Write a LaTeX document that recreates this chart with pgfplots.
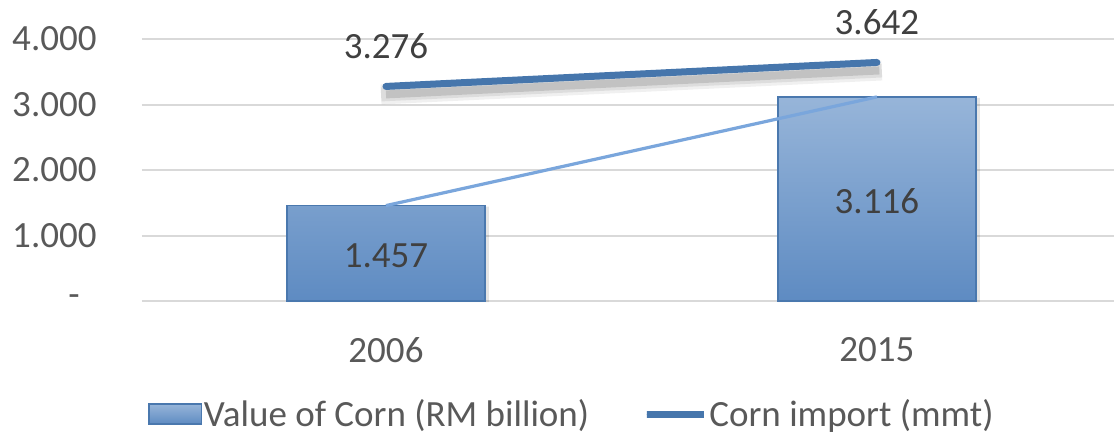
\documentclass[border=0pt]{standalone}
\usepackage{fontspec}
\setmainfont{Carlito}
\usepackage{pgfplots}
\pgfplotsset{compat=1.18}
\definecolor{barTop}{HTML}{97B5D9}
\definecolor{barBot}{HTML}{5E8BC2}
\definecolor{barEdge}{HTML}{4A78AE}
\definecolor{lineDark}{HTML}{4676AC}
\definecolor{lineLight}{HTML}{7AA6DC}
\definecolor{gridc}{HTML}{D9D9D9}
\definecolor{tickc}{HTML}{595959}
\definecolor{labc}{HTML}{404040}
\newcommand\fs{\fontsize{18.5pt}{22pt}\selectfont}
\begin{document}
\begin{tikzpicture}
\useasboundingbox (-71pt,-67pt) rectangle (486pt,150.5pt);
\clip (-71pt,-67pt) rectangle (486pt,150.5pt);
\begin{axis}[
  at={(0,0)}, anchor=south west,
  scale only axis, width=486pt, height=131pt,
  xmin=-0.497, xmax=1.483, ymin=0, ymax=4,
  clip=false,
  axis line style={draw=none},
  major tick length=0pt,
  ymajorgrids, grid style={gridc, line width=1pt},
  ytick={0,1,2,3,4}, yticklabels={-\hspace*{8.5pt},1.000,2.000,3.000,4.000},
  xtick={0,1}, xticklabels={2006,2015},
  yticklabel style={anchor=east, inner sep=0pt, xshift=-22.5pt, font=\fs, text=tickc},
  xticklabel style={anchor=north, inner sep=0pt, yshift=-18pt, font=\fs, text=tickc},
  legend columns=2,
  legend cell align=left,
  legend style={at={(0,0)}, anchor=west, xshift=3pt, yshift=-56.5pt,
    draw=none, fill=none, inner sep=0pt, column sep=0pt, row sep=0pt,
    nodes={inner xsep=1pt, inner ysep=0pt, font=\fs, text=tickc}},
]
% bar shadow
\addplot[ybar, bar width=101pt, fill=black, opacity=0.10, draw=none, forget plot, xshift=1pt, yshift=-0.5pt]
  coordinates {(0,1.457) (1,3.116)};
% bars
\addplot[ybar, bar width=99pt, top color=barTop, bottom color=barBot, draw=barEdge, line width=0.8pt,
  point meta=explicit symbolic,
  visualization depends on=rawy \as \rawy,
  nodes near coords,
  every node near coord/.append style={anchor=center, inner sep=0pt, font=\fs, text=labc,
     shift={(axis direction cs:0,-\rawy/2)}, yshift=-1pt},
  legend image code/.code={
    \fill[top color=barTop, bottom color=barBot] (0pt,-5pt) rectangle (26pt,5pt);
    \draw[barEdge, line width=0.6pt] (0pt,-5pt) rectangle (26pt,5pt);
  }]
  coordinates {(0,1.457) [1.457] (1,3.116) [3.116]};
\addlegendentry{Value of Corn (RM billion)\hspace*{26pt}}
% thin connecting line
\addplot[lineLight, line width=1.6pt, mark=none, forget plot]
  coordinates {(0,1.457) (1,3.116)};
% soft shadow of thick line
\addplot[black, opacity=0.06, line width=10pt, mark=none, forget plot, yshift=-4pt]
  coordinates {(-0.01,3.276) (1.01,3.642)};
\addplot[black, opacity=0.08, line width=7pt, mark=none, forget plot, yshift=-4pt]
  coordinates {(-0.01,3.276) (1.01,3.642)};
\addplot[black, opacity=0.12, line width=4pt, mark=none, forget plot, yshift=-4pt]
  coordinates {(0,3.276) (1.005,3.642)};
% thick line
\addplot[lineDark, line width=3.5pt, line cap=round, mark=none,
  point meta=explicit symbolic,
  nodes near coords,
  every node near coord/.append style={anchor=south, inner sep=0pt, yshift=12pt, font=\fs, text=labc},
  legend image code/.code={
    \path (0pt,0pt) rectangle (28.5pt,0pt);
    \draw[lineDark, line width=3.5pt, line cap=round] (1.75pt,0pt) -- (26.75pt,0pt);
  }]
  coordinates {(0,3.276) [3.276] (1,3.642) [3.642]};
\addlegendentry{Corn import (mmt)}
\end{axis}
\end{tikzpicture}
\end{document}
